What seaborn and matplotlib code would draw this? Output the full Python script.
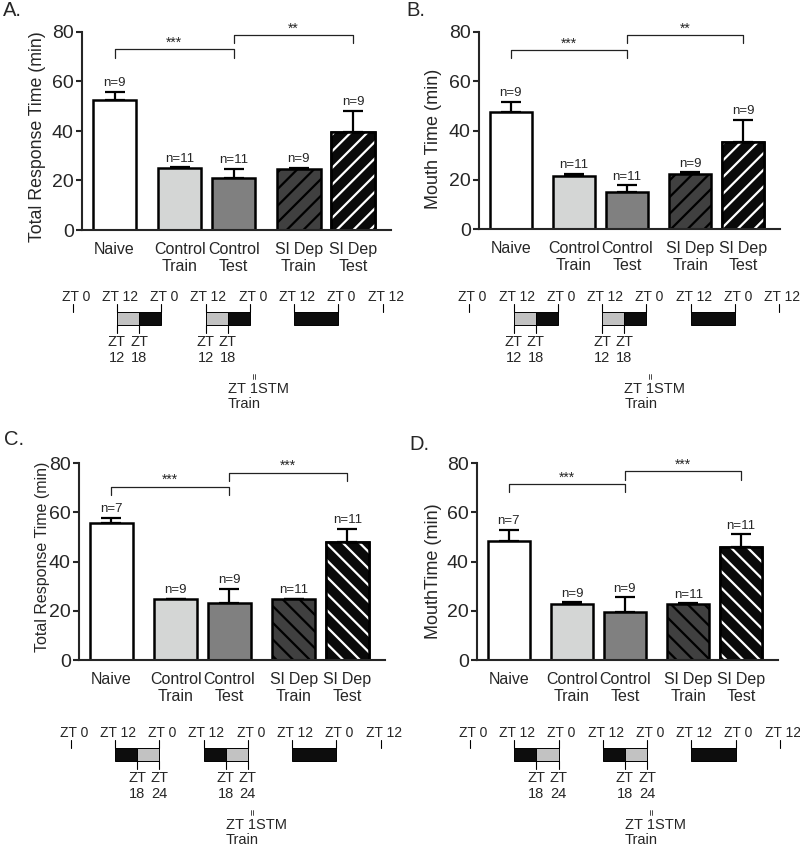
import matplotlib
matplotlib.use("Agg")
import matplotlib.pyplot as plt
from matplotlib.patches import Rectangle
import numpy as np
import pandas as pd
import seaborn as sns

# ---------------- data ----------------
groups = ["Naive", "Control\nTrain", "Control\nTest", "Sl Dep\nTrain", "Sl Dep\nTest"]

a_mean = [52.5, 25.0, 21.0, 24.8, 39.7]
a_sem = [3.4, 0.3, 3.6, 0.3, 8.4]
a_n = [9, 11, 11, 9, 9]

b_mean = [47.7, 21.7, 15.0, 22.3, 35.5]
b_sem = [4.0, 0.8, 2.8, 0.8, 8.8]
b_n = [9, 11, 11, 9, 9]

c_mean = [55.6, 24.8, 23.3, 24.7, 48.1]
c_sem = [2.3, 0.2, 5.5, 0.2, 5.1]
c_n = [7, 9, 9, 11, 11]

d_mean = [48.4, 22.7, 19.7, 22.7, 46.1]
d_sem = [4.5, 0.7, 5.8, 0.3, 5.0]
d_n = [7, 9, 9, 11, 11]

ylabels = ["Total Response Time (min)", "Mouth Time (min)",
           "Total Response Time (min)", "MouthTime (min)"]
panel_letters = ["A.", "B.", "C.", "D."]
sig_a = ["***", "**"]
sig_b = ["***", "**"]
sig_c = ["***", "***"]
sig_d = ["***", "***"]

# timeline diagram (Zeitgeber hours)
zt_hours = [0, 12, 24, 36, 48, 60, 72, 84]
zt_top_labels = ["ZT 0", "ZT 12", "ZT 0", "ZT 12", "ZT 0", "ZT 12", "ZT 0", "ZT 12"]
block_start = [12, 18, 36, 42, 60]
block_end = [18, 24, 42, 48, 72]
blocks_top = ["light", "dark", "light", "dark", "dark"]
blocks_bottom = ["dark", "light", "dark", "light", "dark"]
low_hours_top = [12, 18, 36, 42]
low_labels_top = ["12", "18", "12", "18"]
low_hours_bottom = [18, 24, 42, 48]
low_labels_bottom = ["18", "24", "18", "24"]
stm_hour = 42

# ---------------- style ----------------
sns.set_style("ticks")
plt.rcParams["font.family"] = ["Liberation Sans", "DejaVu Sans"]
plt.rcParams["hatch.linewidth"] = 1.6

W, H = 800, 846
fig = plt.figure(figsize=(W / 100, H / 100), dpi=100)

positions = [0, 1.2, 2.2, 3.4, 4.4]
colors = ["#ffffff", "#d4d6d5", "#808080", "#404040", "#0a0a0a"]


def draw_panel(box, means, sems, ns, sig, brackets, ylabel, ylab_fs, ylab_xy, hatch):
    l, t, r, b = box
    ax = fig.add_axes([l / W, 1 - b / H, (r - l) / W, (b - t) / H])
    df = pd.DataFrame({"pos": positions, "group": groups, "value": means})
    sns.barplot(data=df, x="pos", y="value", hue="group", hue_order=groups,
                palette=dict(zip(groups, colors)), native_scale=True, dodge=False,
                width=0.8, errorbar=None, edgecolor="black", linewidth=1.8,
                legend=False, ax=ax)
    for p in list(ax.patches):
        cx = p.get_x() + p.get_width() / 2
        idx = int(np.argmin([abs(cx - q) for q in positions]))
        if idx == 3:
            p.set_hatch(hatch)
        elif idx == 4:
            ov = Rectangle((p.get_x(), p.get_y()), p.get_width(), p.get_height(),
                           fill=False, edgecolor="white", hatch=hatch, linewidth=0,
                           zorder=p.get_zorder() + 0.1)
            ax.add_patch(ov)
            bd = Rectangle((p.get_x(), p.get_y()), p.get_width(), p.get_height(),
                           fill=False, edgecolor="black", linewidth=1.8,
                           zorder=p.get_zorder() + 0.2)
            ax.add_patch(bd)
    ax.errorbar(positions, means, yerr=[np.zeros(len(means)), sems], fmt="none",
                ecolor="black", elinewidth=1.6, capsize=7.5, capthick=1.6, zorder=0.5)
    for x, m, s, n in zip(positions, means, sems, ns):
        ax.annotate(f"n={n}", (x, m + s), xytext=(0, 2), textcoords="offset points",
                    ha="center", va="bottom", fontsize=9.5)
    for (i1, i2, ytop, ybot), s in zip(brackets, sig):
        x1, x2 = positions[i1], positions[i2]
        ax.plot([x1, x1, x2, x2], [ybot, ytop, ytop, ybot], color="#222222",
                lw=0.9, clip_on=False)
        ax.text((x1 + x2) / 2, ytop + 1.0, s, ha="center", va="baseline",
                fontsize=10, clip_on=False)
    ax.set_ylim(0, 80)
    ax.set_xlim(-0.6, 5.1)
    ax.set_yticks([0, 20, 40, 60, 80])
    ax.set_xticks(positions)
    ax.set_xticklabels(groups, linespacing=1.15)
    ax.set_xlabel("")
    ax.set_ylabel(ylabel, fontsize=ylab_fs)
    ax.yaxis.set_label_coords(*ylab_xy)
    ax.tick_params(axis="x", length=0, pad=8.5, labelsize=11.5)
    ax.tick_params(axis="y", length=4.5, width=1.5, pad=1.5, labelsize=14)
    for s in ["top", "right"]:
        ax.spines[s].set_visible(False)
    for s in ["left", "bottom"]:
        ax.spines[s].set_linewidth(1.5)
    return ax


draw_panel((82, 32, 391, 230), a_mean, a_sem, a_n, sig_a,
           [(0, 2, 73.0, 69.4), (2, 4, 78.8, 75.4)],
           ylabels[0], 12.8, (-0.115, 0.47), "//")
draw_panel((479, 32, 780, 229.3), b_mean, b_sem, b_n, sig_b,
           [(0, 2, 72.7, 69.3), (2, 4, 78.8, 75.4)],
           ylabels[1], 13, (-0.122, 0.46), "//")
draw_panel((79, 463.3, 385, 660), c_mean, c_sem, c_n, sig_c,
           [(0, 2, 70.5, 67.1), (2, 4, 76.2, 72.8)],
           ylabels[2], 11.5, (-0.095, 0.525), "\\\\")
draw_panel((477, 463.3, 778, 660), d_mean, d_sem, d_n, sig_d,
           [(0, 2, 71.5, 68.2), (2, 4, 76.9, 73.2)],
           ylabels[3], 13, (-0.116, 0.45), "\\\\")

# panel letters
for (px, py), lab in zip([(3, 1), (406, 1), (4, 430), (409, 435)], panel_letters):
    fig.text(px / W, 1 - py / H, lab, ha="left", va="top", fontsize=14.5)

# ---------------- timelines ----------------
tl = fig.add_axes([0, 0, 1, 1], zorder=-1)
tl.set_xlim(0, W)
tl.set_ylim(H, 0)
tl.axis("off")
shade = {"light": "#c2c2c2", "dark": "#0d0d0d"}


def draw_timeline(x0, yb, blocks, low_hours, low_labels):
    sx = 3.69
    X = lambda h: x0 + sx * h
    y_tick0, y_bar0, y_bar1, y_low1 = yb + 3.3, yb + 11.3, yb + 24.7, yb + 32.7
    for h, lab in zip(zt_hours, zt_top_labels):
        tl.text(X(h) + 3, yb, lab, ha="center", va="baseline", fontsize=10)
        tl.plot([X(h), X(h)], [y_tick0, y_bar0], color="black", lw=0.8)
    for s, e, c in zip(block_start, block_end, blocks):
        tl.add_patch(Rectangle((X(s), y_bar0), X(e) - X(s), y_bar1 - y_bar0,
                               facecolor=shade[c], edgecolor="black", lw=0.7))
    for h, lab in zip(low_hours, low_labels):
        tl.plot([X(h), X(h)], [y_bar1, y_low1], color="black", lw=0.8)
        tl.text(X(h), yb + 45.2, "ZT", ha="center", va="baseline", fontsize=10.5)
        tl.text(X(h), yb + 61.8, lab, ha="center", va="baseline", fontsize=10.5)
    xs = X(stm_hour)
    tl.text(xs, yb + 92, "ZT 1STM", ha="left", va="baseline", fontsize=10.5)
    tl.text(xs, yb + 107.3, "Train", ha="left", va="baseline", fontsize=10.5)
    for dx in (-0.9, 0.9):
        tl.plot([xs + 26 + dx, xs + 26 + dx], [yb + 73, yb + 78.5], color="black", lw=0.5)


draw_timeline(72.7, 300.7, blocks_top, low_hours_top, low_labels_top)
draw_timeline(469.3, 300.7, blocks_top, low_hours_top, low_labels_top)
draw_timeline(70.7, 736.7, blocks_bottom, low_hours_bottom, low_labels_bottom)
draw_timeline(470.0, 736.7, blocks_bottom, low_hours_bottom, low_labels_bottom)

fig.savefig("out.png", dpi=100)
